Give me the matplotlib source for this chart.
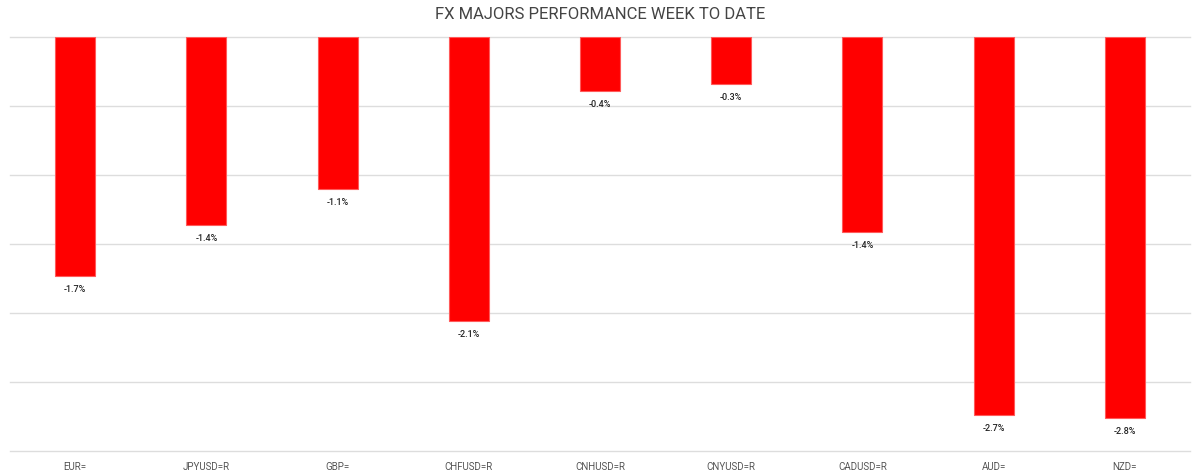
import numpy as np
import matplotlib.pyplot as plt

# ============================================================
# Data — week-to-date performance (%)
# ============================================================

pairs   = ["EUR=", "JPYUSD=R", "GBP=", "CHFUSD=R", "CNHUSD=R",
           "CNYUSD=R", "CADUSD=R", "AUD=", "NZD="]
changes = [-1.73, -1.36, -1.10, -2.06, -0.39, -0.34, -1.41, -2.74, -2.76]

# ============================================================
# Plot
# ============================================================

plt.rcParams["font.family"] = ["Roboto", "DejaVu Sans"]

fig = plt.figure(figsize=(12, 4.75), dpi=100)
ax = fig.add_axes([0.008, 0.05, 0.984, 0.872])

x = np.arange(len(pairs))
bars = ax.bar(x, changes, width=0.305, color="#ff0000",
              edgecolor="#ff5a5a", linewidth=0.8, zorder=3)

for xi, v in zip(x, changes):
    ax.annotate(f"{v:.1f}%", (xi, v), xytext=(0, -6.5),
                textcoords="offset points", ha="center", va="top",
                fontsize=6.5, fontweight="medium", color="#222222")

ax.set_xlim(-0.5, len(pairs) - 0.5)
ax.set_ylim(-3.0, 0.0)
ax.set_yticks(np.arange(-3.0, 0.01, 0.5))
ax.yaxis.grid(True, color="#dddddd", linewidth=1.0, zorder=0)
for gl in ax.get_ygridlines():
    gl.set_clip_on(False)
ax.set_yticklabels([])
ax.tick_params(axis="y", length=0)
ax.tick_params(axis="x", length=0, labelsize=7, labelcolor="#555555", pad=8)
ax.set_xticks(x)
ax.set_xticklabels(pairs)
for s in ax.spines.values():
    s.set_visible(False)

fig.suptitle("FX MAJORS PERFORMANCE WEEK TO DATE", fontsize=12,
             color="#444444", y=0.985)

fig.savefig("out.png", dpi=100)
